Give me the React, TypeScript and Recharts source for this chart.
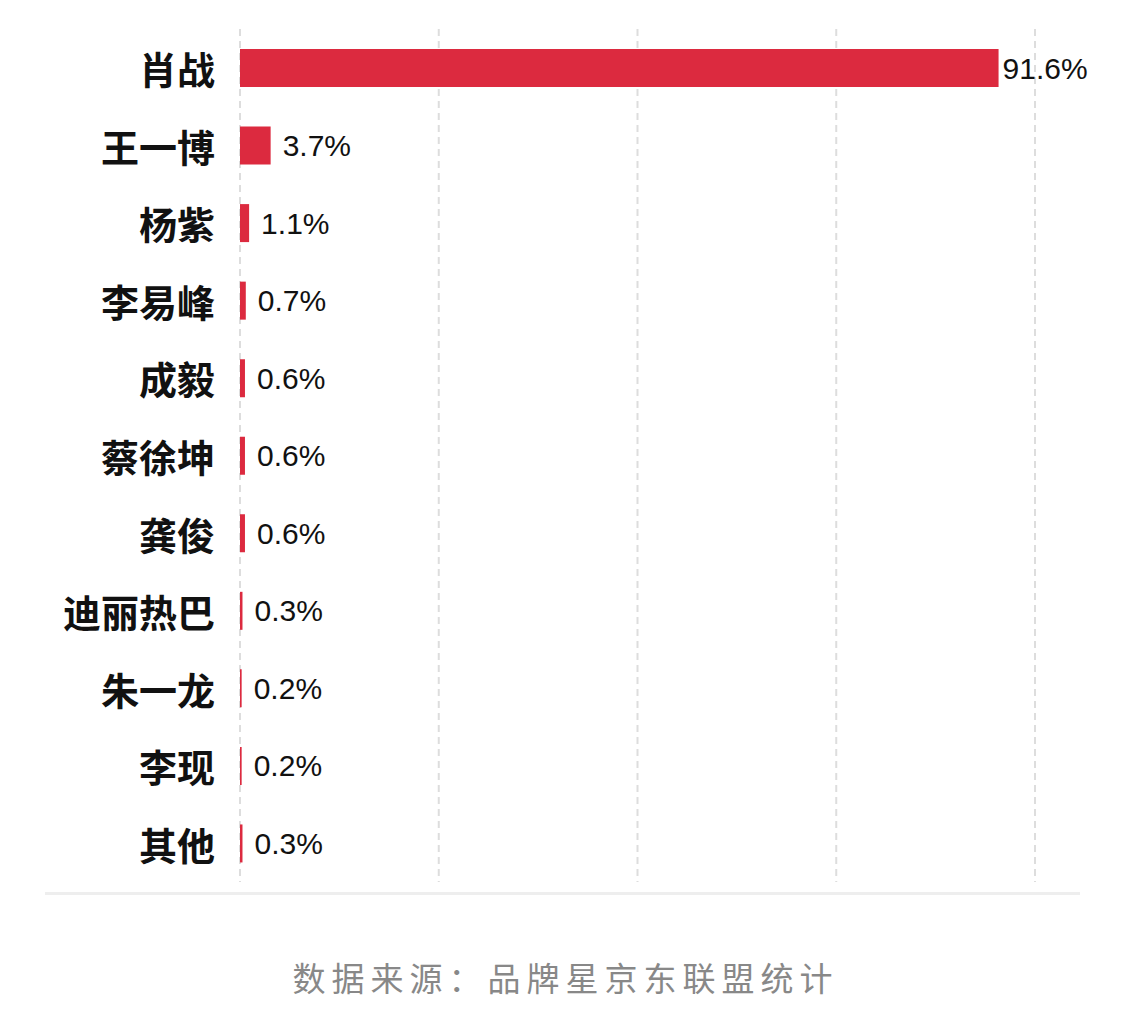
import React from "react";
import { Bar, BarChart, CartesianGrid, LabelList, XAxis, YAxis } from "recharts";

const NAMES = ["肖战", "王一博", "杨紫", "李易峰", "成毅", "蔡徐坤", "龚俊", "迪丽热巴", "朱一龙", "李现", "其他"];
const SHARES = [91.6, 3.7, 1.1, 0.7, 0.6, 0.6, 0.6, 0.3, 0.2, 0.2, 0.3];
const X_TICKS = [0, 24, 48, 72, 96];
const SOURCE = "数据来源：品牌星京东联盟统计";

const BAR_RED = "#dc2a3f";

const rows = NAMES.map((name, i) => ({ name, share: SHARES[i] }));

function NameTick({ x, y, payload }: { x: number; y: number; payload: { value: string } }) {
  return (
    <text
      x={x}
      y={y}
      dx={-17}
      textAnchor="end"
      dominantBaseline="central"
      fontFamily="'Noto Sans CJK SC', sans-serif"
      fontWeight={700}
      fontSize={38}
      fill="#111"
    >
      {payload.value}
    </text>
  );
}

function ShareLabel(props: any) {
  const { x, y, width, height, value } = props;
  const gap = value > 50 ? 4 : 12;
  return (
    <text
      x={x + width + gap}
      y={y + height / 2}
      dominantBaseline="central"
      fontFamily="'Liberation Sans', Arial, sans-serif"
      fontSize={30}
      fill="#111"
    >
      {value}%
    </text>
  );
}

export default function App() {
  return (
    <div style={{ position: "absolute", left: 0, top: 0, width: 1125, height: 1017, background: "#fff" }}>
      <BarChart
        width={1125}
        height={1017}
        data={rows}
        layout="vertical"
        margin={{ top: 29, right: 90, bottom: 135, left: 0 }}
        barCategoryGap={0}
      >
        <CartesianGrid
          horizontal={false}
          stroke="#dddddd"
          strokeWidth={2}
          strokeDasharray="7 5"
        />
        <XAxis type="number" domain={[0, 96]} ticks={X_TICKS} hide />
        <YAxis
          type="category"
          dataKey="name"
          width={240}
          axisLine={false}
          tickLine={false}
          interval={0}
          tick={NameTick as any}
        />
        <Bar dataKey="share" fill={BAR_RED} barSize={38} isAnimationActive={false}>
          <LabelList dataKey="share" content={ShareLabel} />
        </Bar>
      </BarChart>
      <div
        style={{
          position: "absolute",
          left: 45,
          top: 892,
          width: 1035,
          height: 3,
          background: "#eeeeee",
        }}
      />
      <div
        style={{
          position: "absolute",
          left: 0,
          top: 954,
          width: 1125,
          textAlign: "center",
          fontFamily: "'Noto Sans CJK SC', sans-serif",
          fontSize: 33,
          fontWeight: 400,
          letterSpacing: 6,
          color: "#888888",
          lineHeight: "46px",
          paddingLeft: 6,
          boxSizing: "border-box",
        }}
      >
        {SOURCE}
      </div>
    </div>
  );
}
